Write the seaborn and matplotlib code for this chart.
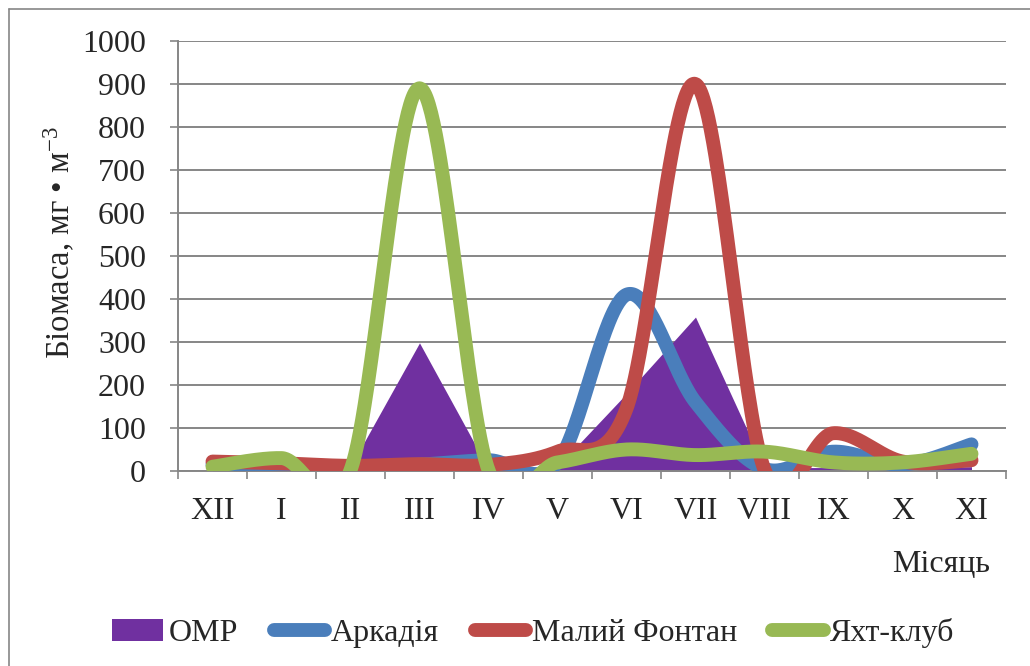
import numpy as np
import pandas as pd
import matplotlib
matplotlib.use("Agg")
import matplotlib.pyplot as plt
from matplotlib.ticker import FixedLocator, NullFormatter
from matplotlib.lines import Line2D
import seaborn as sns

# ---- data ----
months = ['XII', 'I', 'II', 'III', 'IV', 'V', 'VI', 'VII', 'VIII', 'IX', 'X', 'XI']
omr = [5, 5, 10, 298, 5, 10, 180, 358, 8, 8, 8, 10]
arkadia = [15, 14, 10, 15, 25, 20, 410, 160, 5, 45, 15, 62]
maliy_fontan = [22, 18, 12, 16, 14, 45, 145, 900, 3, 88, 22, 25]
yacht_club = [10, 30, 2, 890, 2, 20, 50, 37, 45, 20, 20, 40]
yticks = list(range(0, 1001, 100))

colors = {'ОМР': '#7030A0', 'Аркадія': '#4A7EBB',
          'Малий Фонтан': '#BE4B48', 'Яхт-клуб': '#98B954'}


def smooth(vals, n=60):
    """Excel-like smoothed line: cubic Bezier through the points (Catmull-Rom, 1/6)."""
    y = np.asarray(vals, float)
    x = np.arange(len(y), dtype=float)
    m = len(y)
    xs, ys = [], []
    t = np.linspace(0, 1, n)[:, None]
    for i in range(m - 1):
        im, ip = max(i - 1, 0), min(i + 2, m - 1)
        p0 = np.array([x[i], y[i]]); p3 = np.array([x[i + 1], y[i + 1]])
        pm = np.array([x[im], y[im]]); pp = np.array([x[ip], y[ip]])
        c1 = p0 + (p3 - pm) / 6.0
        c2 = p3 - (pp - p0) / 6.0
        b = (1 - t) ** 3 * p0 + 3 * (1 - t) ** 2 * t * c1 + 3 * (1 - t) * t ** 2 * c2 + t ** 3 * p3
        if i > 0:
            b = b[1:]
        xs.append(b[:, 0]); ys.append(b[:, 1])
    return np.concatenate(xs), np.concatenate(ys)


sns.set_style('white')
plt.rcParams['font.family'] = ['Liberation Serif', 'DejaVu Serif']
plt.rcParams['mathtext.fontset'] = 'custom'
plt.rcParams['mathtext.rm'] = 'Liberation Serif'
plt.rcParams['mathtext.it'] = 'Liberation Serif'

fig = plt.figure(figsize=(10.3, 6.66), dpi=100)
ax = fig.add_axes([178 / 1030, 1 - 471 / 666, (1006 - 178) / 1030, (471 - 41) / 666])

gray = '#868686'
xpos = np.arange(len(months))
fs = 23

# area series
ax.fill_between(xpos, omr, 0, color=colors['ОМР'], linewidth=0, label='ОМР', zorder=2)

lw = 10
for name, vals, z in [('Аркадія', arkadia, 3), ('Малий Фонтан', maliy_fontan, 4), ('Яхт-клуб', yacht_club, 5)]:
    sx, sy = smooth(vals)
    df = pd.DataFrame({'x': sx, 'y': sy})
    sns.lineplot(data=df, x='x', y='y', sort=False, ax=ax, color=colors[name], linewidth=lw,
                 solid_capstyle='round', solid_joinstyle='round', label=name, zorder=z)

ax.set_xlim(-0.5, len(months) - 0.5)
ax.set_ylim(0, 1000)
ax.set_yticks(yticks)
ax.set_xticks(xpos)
ax.set_xticklabels(months)
ax.xaxis.set_minor_locator(FixedLocator(np.arange(-0.5, len(months), 1.0)))
ax.xaxis.set_minor_formatter(NullFormatter())
ax.tick_params(axis='x', which='major', length=0, pad=19, labelsize=fs)
ax.tick_params(axis='x', which='minor', length=6, width=1.2, color=gray, direction='out', bottom=True)
ax.tick_params(axis='y', length=6, width=1.2, color=gray, direction='out', left=True, pad=17, labelsize=fs)

ax.yaxis.grid(True, color=gray, linewidth=1.4)
ax.xaxis.grid(False)
ax.set_axisbelow(True)
for s in ['top', 'right']:
    ax.spines[s].set_visible(False)
for s in ['left', 'bottom']:
    ax.spines[s].set_color(gray)
    ax.spines[s].set_linewidth(1.4)

ax.set_xlabel('')
ax.set_ylabel('Біомаса, мг • м$^{-3}$', fontsize=23.5)
ax.yaxis.set_label_coords(-0.122, 0.53)

fig.text(990 / 1030, 1 - 565 / 666, 'Місяць', ha='right', va='center', fontsize=fs)

handles, labels = ax.get_legend_handles_labels()
if ax.get_legend() is not None:
    ax.get_legend().remove()
order = ['ОМР', 'Аркадія', 'Малий Фонтан', 'Яхт-клуб']
hmap = dict(zip(labels, handles))
hs = [hmap[k] for k in order]
fig.legend(hs, order, loc='center', bbox_to_anchor=(533 / 1030, 1 - 633 / 666), ncol=4,
           frameon=False, fontsize=fs, handlelength=1.6, handletextpad=0.2, columnspacing=1.1,
           borderaxespad=0)

# outer chart border
fig.add_artist(Line2D([9 / 1030, 9 / 1030], [0, 1 - 9 / 666], transform=fig.transFigure, color=gray, lw=1.2))
fig.add_artist(Line2D([9 / 1030, 1], [1 - 9 / 666, 1 - 9 / 666], transform=fig.transFigure, color=gray, lw=1.2))

fig.savefig('out.png', dpi=100)
